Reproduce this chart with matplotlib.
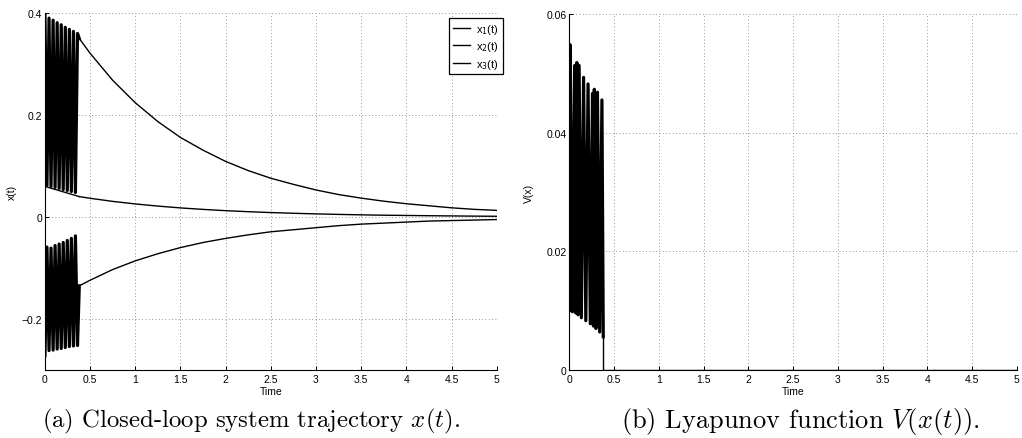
#!/usr/bin/env python3
"""Closed-loop trajectory and Lyapunov function, side by side."""
import matplotlib

matplotlib.use("Agg")
import matplotlib.pyplot as plt

plt.rcParams["font.family"] = ["Liberation Sans", "DejaVu Sans"]
plt.rcParams["axes.unicode_minus"] = True

# switching phase: fast chattering up to t = 0.38
T_SWITCH = [0.000, 0.022, 0.045, 0.067, 0.090, 0.112, 0.135, 0.157, 0.180,
            0.202, 0.225, 0.247, 0.270, 0.292, 0.315, 0.337, 0.360]
X1_SWITCH = [0.395, 0.062, 0.390, 0.060, 0.386, 0.058, 0.381, 0.056, 0.377,
             0.054, 0.372, 0.052, 0.368, 0.050, 0.364, 0.048, 0.360]
X2_SWITCH = [0.060]  # at t = 0 only, the state then drifts to the tail
X3_SWITCH = [-0.272, -0.059, -0.262, -0.061, -0.261, -0.056, -0.259, -0.053,
             -0.258, -0.050, -0.256, -0.046, -0.254, -0.042, -0.253, -0.037,
             -0.252]

# smooth decay once the switching stops
T_TAIL = [0.38, 0.50, 0.75, 1.00, 1.25, 1.50, 1.75, 2.00, 2.25, 2.50,
          2.75, 3.00, 3.25, 3.50, 3.75, 4.00, 4.25, 4.50, 4.75, 5.00]
X1_TAIL = [0.350, 0.321, 0.268, 0.224, 0.187, 0.156, 0.131, 0.109, 0.091,
           0.076, 0.064, 0.053, 0.044, 0.037, 0.031, 0.026, 0.022, 0.018,
           0.015, 0.013]
X2_TAIL = [0.0400, 0.0367, 0.0306, 0.0256, 0.0214, 0.0178, 0.0149, 0.0124,
           0.0104, 0.0087, 0.0073, 0.0061, 0.0051, 0.0042, 0.0035, 0.0030,
           0.0025, 0.0021, 0.0017, 0.0014]
X3_TAIL = [-0.135, -0.124, -0.103, -0.086, -0.072, -0.060, -0.050, -0.042,
           -0.035, -0.029, -0.025, -0.021, -0.017, -0.014, -0.012, -0.010,
           -0.008, -0.007, -0.006, -0.005]

# Lyapunov function: chattering part, then flat at zero
T_V = [0.000, 0.010, 0.035, 0.060, 0.072, 0.085, 0.098, 0.110, 0.135,
       0.160, 0.185, 0.210, 0.235, 0.260, 0.270, 0.280, 0.298, 0.315, 0.340,
       0.365, 0.380]
V = [0.0100, 0.0548, 0.0098, 0.0513, 0.0096, 0.0518, 0.0093, 0.0513,
     0.0088, 0.0493, 0.0083, 0.0482, 0.0078, 0.0466, 0.0074, 0.0473, 0.0070,
     0.0468, 0.0064, 0.0455, 0.0056]
T_V_EDGE = [0.000, 0.000]
V_EDGE = [0.0000, 0.0100]
T_V_TAIL = [0.380, 0.380, 5.000]
V_TAIL = [0.0056, 0.0000, 0.0000]

X_TICKS = [0, 0.5, 1, 1.5, 2, 2.5, 3, 3.5, 4, 4.5, 5]
X_TICKLABELS = ["0", "0.5", "1", "1.5", "2", "2.5", "3", "3.5", "4", "4.5", "5"]
XA_YTICKS = [-0.2, 0, 0.2, 0.4]
XA_YTICKLABELS = ["\u22120.2", "0", "0.2", "0.4"]
V_YTICKS = [0, 0.02, 0.04, 0.06]
V_YTICKLABELS = ["0", "0.02", "0.04", "0.06"]

LEGEND_LABELS = ["x$_1$(t)", "x$_2$(t)", "x$_3$(t)"]
CAPTIONS = ["(a) Closed-loop system trajectory $x(t)$.",
            "(b) Lyapunov function $V(x(t))$."]
CAPTION_X = [0.246, 0.783]
CAPTION_SIZE = [17.8, 19.0]

TICK_SIZE = 7.5
CHATTER_LW = 2.3


def style_axes(ax, yticks, yticklabels) -> None:
    """MATLAB-like axes: box off, inward ticks, dotted grid."""
    ax.set_xlim(0, 5)
    ax.set_xticks(X_TICKS)
    ax.set_xticklabels(X_TICKLABELS)
    ax.set_yticks(yticks)
    ax.set_yticklabels(yticklabels)
    for side in ("top", "right"):
        ax.spines[side].set_visible(False)
    for side in ("left", "bottom"):
        ax.spines[side].set_linewidth(0.8)
    ax.tick_params(direction="in", length=3, width=0.7,
                   labelsize=TICK_SIZE, colors="black")
    ax.tick_params(axis="x", pad=3)
    ax.tick_params(axis="y", pad=2)
    ax.grid(True, color="0.45", linestyle=(0, (1, 3)), linewidth=0.6)
    ax.set_axisbelow(True)
    ax.set_xlabel("Time", fontsize=TICK_SIZE)
    ax.xaxis.set_label_coords(0.5, -0.044)


def main() -> int:
    fig = plt.figure(figsize=(10.22, 4.39), dpi=100)
    ax_x = fig.add_axes([0.044, 0.155, 0.442, 0.813])
    ax_v = fig.add_axes([0.557, 0.155, 0.438, 0.811])

    lines = []
    for sw, tail, t_sw in ((X1_SWITCH, X1_TAIL, T_SWITCH),
                           (X2_SWITCH, X2_TAIL, T_SWITCH[:1]),
                           (X3_SWITCH, X3_TAIL, T_SWITCH)):
        # thick strokes for the chattering, thin line for the decay
        lw = CHATTER_LW if len(sw) > 1 else 1.0
        ax_x.plot(list(t_sw) + T_TAIL[:1], list(sw) + tail[:1],
                  color="black", linewidth=lw)
        (ln,) = ax_x.plot(T_TAIL, tail, color="black", linewidth=1.0)
        lines.append(ln)
    ax_x.set_ylim(-0.3, 0.4)
    style_axes(ax_x, XA_YTICKS, XA_YTICKLABELS)
    ax_x.set_ylabel("x(t)", fontsize=TICK_SIZE)
    ax_x.yaxis.set_label_coords(-0.062, 0.5)

    leg = ax_x.legend(lines, LEGEND_LABELS, loc="upper right",
                      bbox_to_anchor=(1.013, 0.986), borderaxespad=0,
                      fontsize=8, fancybox=False, framealpha=1,
                      edgecolor="black", handlelength=1.55,
                      handletextpad=0.55, labelspacing=0.3,
                      borderpad=0.35)
    leg.get_frame().set_linewidth(0.9)

    ax_v.plot(T_V, V, color="black", linewidth=CHATTER_LW)
    ax_v.plot(T_V_EDGE, V_EDGE, color="0.5", linewidth=0.8)
    ax_v.plot(T_V_TAIL, V_TAIL, color="black", linewidth=1.0)
    ax_v.set_ylim(0, 0.06)
    style_axes(ax_v, V_YTICKS, V_YTICKLABELS)
    ax_v.set_ylabel("V(x)", fontsize=TICK_SIZE)
    ax_v.yaxis.set_label_coords(-0.078, 0.5)

    for x, caption, size in zip(CAPTION_X, CAPTIONS, CAPTION_SIZE):
        fig.text(x, 0.039, caption, ha="center", va="center",
                 fontsize=size, family="cmr10", math_fontfamily="cm")

    fig.savefig("out.png", dpi=100)
    return 0


if __name__ == "__main__":
    main()
